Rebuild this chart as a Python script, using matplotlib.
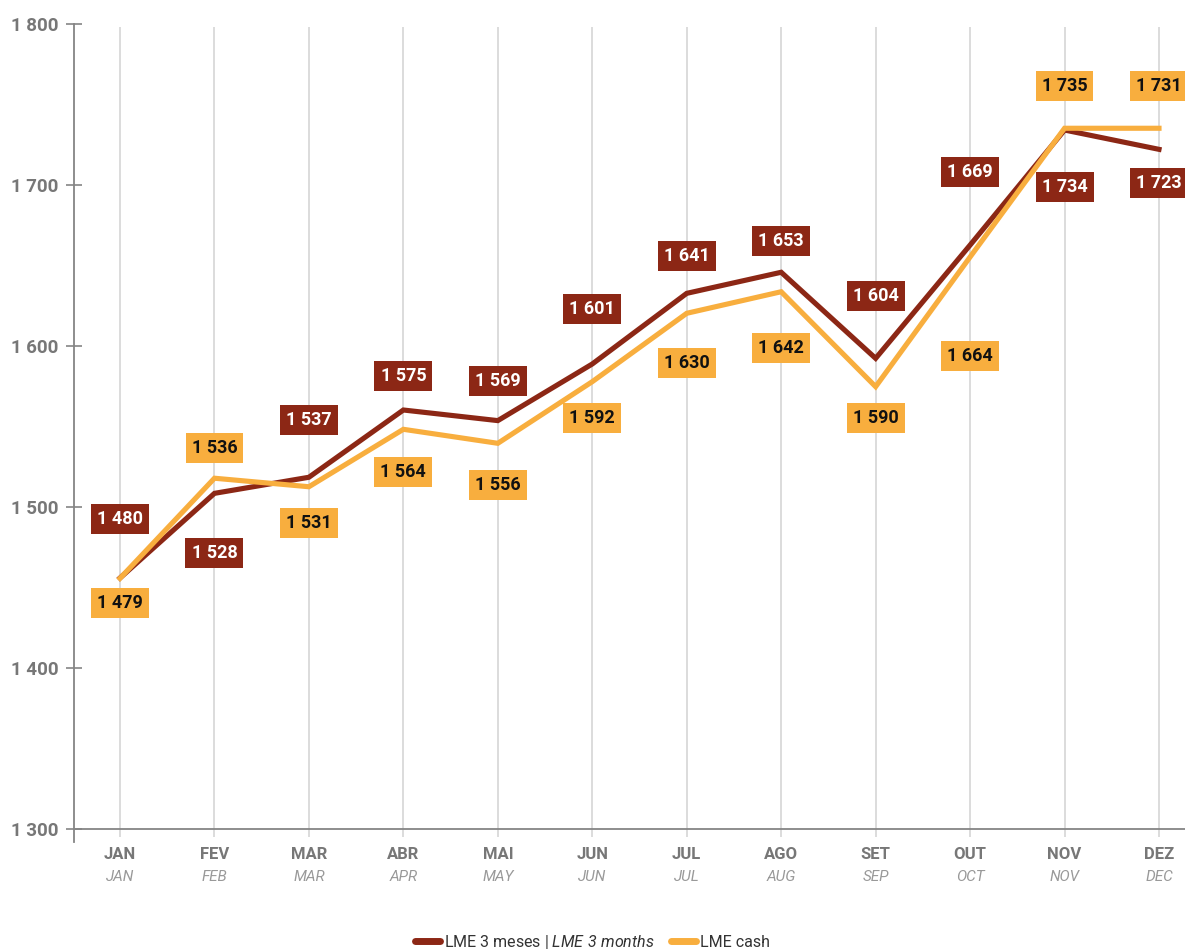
import matplotlib
matplotlib.use("Agg")
import matplotlib.pyplot as plt
from matplotlib.lines import Line2D

plt.rcParams['font.family'] = ['Roboto', 'DejaVu Sans']
plt.rcParams['mathtext.fontset'] = 'custom'
plt.rcParams['mathtext.it'] = 'Roboto:italic'
plt.rcParams['mathtext.rm'] = 'Roboto:italic'

# ---- data ----
months_pt = ["JAN", "FEV", "MAR", "ABR", "MAI", "JUN", "JUL", "AGO", "SET", "OUT", "NOV", "DEZ"]
months_en = ["JAN", "FEB", "MAR", "APR", "MAY", "JUN", "JUL", "AUG", "SEP", "OCT", "NOV", "DEC"]

# line values as drawn in the chart
lme_3m_line = [1455.7, 1508.3, 1518.3, 1560.1, 1553.5, 1588.7, 1632.6, 1645.7, 1592.2, 1662.6, 1734.1, 1722.1]
lme_cash_line = [1455.5, 1517.7, 1512.4, 1548.1, 1539.4, 1577.7, 1620.2, 1633.6, 1574.6, 1655.2, 1735.2, 1735.2]

# printed label values
lme_3m_labels = [1480, 1528, 1537, 1575, 1569, 1601, 1641, 1653, 1604, 1669, 1734, 1723]
lme_cash_labels = [1479, 1536, 1531, 1564, 1556, 1592, 1630, 1642, 1590, 1664, 1735, 1731]

y_ticks = [1300, 1400, 1500, 1600, 1700, 1800]

# ---- label placement (pixel offsets, positive = downward) ----
dark_dy = [-58.7, 60, -57.3, -34, -39.7, -55, -37.6, -31.6, -62.3, -73.3, 56.7, 34]
cash_dy = [24.5, -30, 36.6, 43, 41.7, 36, 49.4, 56, 31, 98.7, -42.3, -42.3]

DARK = "#8C2715"
YEL = "#F8AE3E"
AXC = "#858585"

W, H = 1185, 952
fig = plt.figure(figsize=(W / 100, H / 100), dpi=100)
ax = fig.add_axes([74 / W, (H - 842) / H, (W - 74) / W, (842 - 24) / H])
ymin = 1800 - (842 - 24) / 1.609
ax.set_ylim(ymin, 1800)
x = list(range(len(months_pt)))
ax.set_xlim(-(120 - 74) / 94.45, 11 + (W - 1159) / 94.45)

# grid lines
ax.vlines(x, 1300 - 8 / 1.609, 1798, colors="#d6d6d6", linewidth=1.2, zorder=1)

# spines
for s in ["top", "right"]:
    ax.spines[s].set_visible(False)
ax.spines["bottom"].set_position(("data", 1300))
ax.spines["bottom"].set_color(AXC)
ax.spines["bottom"].set_linewidth(1.3)
ax.spines["left"].set_color(AXC)
ax.spines["left"].set_linewidth(1.3)
ax.spines["left"].set_bounds(ymin, 1800)

# lines
ax.plot(x, lme_3m_line, color=DARK, lw=3.7, zorder=3, solid_joinstyle="miter")
ax.plot(x, lme_cash_line, color=YEL, lw=3.7, zorder=4, solid_joinstyle="miter")

def fmt(v):
    return f"{v:,}".replace(",", " ")

for xi, yv, lab, dy in zip(x, lme_3m_line, lme_3m_labels, dark_dy):
    ax.annotate(fmt(lab), xy=(xi, yv), xytext=(0, -dy * 0.72), textcoords="offset points",
                ha="center", va="center", fontsize=13, fontweight="bold", color="white",
                bbox=dict(boxstyle="square,pad=0.34", fc=DARK, ec="none"), zorder=6,
                annotation_clip=False)
for xi, yv, lab, dy in zip(x, lme_cash_line, lme_cash_labels, cash_dy):
    ax.annotate(fmt(lab), xy=(xi, yv), xytext=(0, -dy * 0.72), textcoords="offset points",
                ha="center", va="center", fontsize=13, fontweight="bold", color="#111111",
                bbox=dict(boxstyle="square,pad=0.34", fc=YEL, ec="none"), zorder=6,
                annotation_clip=False)

# y axis
ax.set_yticks(y_ticks)
ax.set_yticklabels([fmt(v) for v in y_ticks], fontsize=13.5, fontweight="bold", color="#777777")
ax.tick_params(axis="y", direction="inout", length=12, width=1.2, color=AXC, pad=5)

# x axis
ax.set_xticks(x)
ax.set_xticklabels(months_pt, fontsize=12, fontweight="bold", color="#777777")
ax.tick_params(axis="x", length=0, pad=13)
for xi, en in zip(x, months_en):
    ax.annotate(en, xy=(xi, 0), xycoords=ax.get_xaxis_transform(), xytext=(0, -35 * 0.72),
                textcoords="offset points", ha="center", va="center", fontsize=11,
                fontstyle="italic", color="#999999", annotation_clip=False)

# legend
handles = [Line2D([0], [0], color=DARK, lw=5, solid_capstyle="round"),
           Line2D([0], [0], color=YEL, lw=5, solid_capstyle="round")]
labels = ["LME 3 meses | $\\mathit{LME\\ 3\\ months}$", "LME cash"]
fig.legend(handles, labels, loc="center", bbox_to_anchor=(0.5, 1 - 942 / H), ncol=2,
           frameon=False, fontsize=11.5, handlelength=1.6, handletextpad=0.25,
           columnspacing=1.0, labelcolor="#333333")

fig.savefig("out.png", dpi=100)
